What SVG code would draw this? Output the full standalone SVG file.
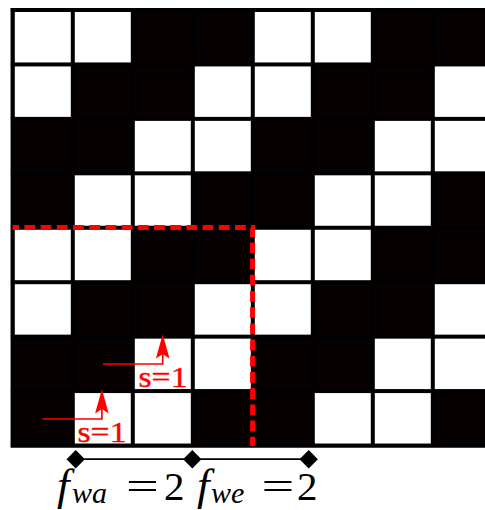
<svg xmlns="http://www.w3.org/2000/svg" width="485" height="510" viewBox="0 0 485 510">
  <style>
    .w { fill: #ffffff; }
    .gl { stroke: #000000; stroke-width: 4; fill: none; }
    .red { stroke: #ff0000; fill: none; }
    .rt { font-family: "Liberation Serif", "Times New Roman", serif; font-size: 30px; fill: #ff0000; stroke: #ff0000; stroke-width: 0.4; }
    .m { font-family: "Liberation Serif", "Times New Roman", serif; font-size: 41px; fill: #000000; }
    .mf { font-family: "Liberation Serif", "Times New Roman", serif; font-size: 45px; font-style: italic; fill: #000000; }
    .sub { font-family: "Liberation Serif", "Times New Roman", serif; font-size: 30px; font-style: italic; fill: #000000; }
  </style>
  <defs>
    <marker id="stealth" viewBox="-25 -7 26 14" markerWidth="26" markerHeight="14" refX="-19.7" refY="0" orient="auto" markerUnits="userSpaceOnUse">
      <path d="M0,0 L-24.2,-6.8 L-19.7,0 L-24.2,6.8 Z" fill="#ff0000"/>
    </marker>
    <marker id="diamond" viewBox="-10 -10 20 20" markerWidth="20" markerHeight="20" refX="0" refY="0" orient="auto" markerUnits="userSpaceOnUse">
      <path d="M0,-9.2 L9.2,0 L0,9.2 L-9.2,0 Z" fill="#000000"/>
    </marker>
  </defs>

  <g id="grid">
    <rect x="10.7" y="8" width="480" height="439.5" fill="#060000"/>
    <path class="gl" d="M12.8,8 V447.5 M72.8,8 V447.5 M132.8,8 V447.5 M192.8,8 V447.5 M252.8,8 V447.5 M312.8,8 V447.5 M372.8,8 V447.5 M432.8,8 V447.5
      M10.7,10 H485 M10.7,64.44 H485 M10.7,118.88 H485 M10.7,173.32 H485 M10.7,227.76 H485 M10.7,282.2 H485 M10.7,336.64 H485 M10.7,391.08 H485 M10.7,445.5 H485"/>
    <g id="cells">
      <rect class="w" x="14.8" y="12" width="56" height="50.44"/>
      <rect class="w" x="74.8" y="12" width="56" height="50.44"/>
      <rect class="w" x="254.8" y="12" width="56" height="50.44"/>
      <rect class="w" x="314.8" y="12" width="56" height="50.44"/>

      <rect class="w" x="14.8" y="66.44" width="56" height="50.44"/>
      <rect class="w" x="194.8" y="66.44" width="56" height="50.44"/>
      <rect class="w" x="254.8" y="66.44" width="56" height="50.44"/>
      <rect class="w" x="434.8" y="66.44" width="56" height="50.44"/>

      <rect class="w" x="134.8" y="120.88" width="56" height="50.44"/>
      <rect class="w" x="194.8" y="120.88" width="56" height="50.44"/>
      <rect class="w" x="374.8" y="120.88" width="56" height="50.44"/>
      <rect class="w" x="434.8" y="120.88" width="56" height="50.44"/>

      <rect class="w" x="74.8" y="175.32" width="56" height="50.44"/>
      <rect class="w" x="134.8" y="175.32" width="56" height="50.44"/>
      <rect class="w" x="314.8" y="175.32" width="56" height="50.44"/>
      <rect class="w" x="374.8" y="175.32" width="56" height="50.44"/>

      <rect class="w" x="14.8" y="229.76" width="56" height="50.44"/>
      <rect class="w" x="74.8" y="229.76" width="56" height="50.44"/>
      <rect class="w" x="254.8" y="229.76" width="56" height="50.44"/>
      <rect class="w" x="314.8" y="229.76" width="56" height="50.44"/>

      <rect class="w" x="14.8" y="284.2" width="56" height="50.44"/>
      <rect class="w" x="194.8" y="284.2" width="56" height="50.44"/>
      <rect class="w" x="254.8" y="284.2" width="56" height="50.44"/>
      <rect class="w" x="434.8" y="284.2" width="56" height="50.44"/>

      <rect class="w" x="134.8" y="338.64" width="56" height="50.44"/>
      <rect class="w" x="194.8" y="338.64" width="56" height="50.44"/>
      <rect class="w" x="374.8" y="338.64" width="56" height="50.44"/>
      <rect class="w" x="434.8" y="338.64" width="56" height="50.44"/>

      <rect class="w" x="74.8" y="393.08" width="56" height="50.44"/>
      <rect class="w" x="134.8" y="393.08" width="56" height="50.44"/>
      <rect class="w" x="314.8" y="393.08" width="56" height="50.44"/>
      <rect class="w" x="374.8" y="393.08" width="56" height="50.44"/>
    </g>
  </g>

  <g id="region">
    <path class="red" stroke-width="5" stroke-dasharray="10.8 5.4" stroke-dashoffset="4.5" d="M12.7,227.6 H252.6 V446"/>
  </g>

  <g id="connectors">
    <path id="arrow-s1-a" class="red" stroke-width="1.7" d="M103,364 H162.7 V354" marker-end="url(#stealth)"/>
    <path id="arrow-s1-b" class="red" stroke-width="1.7" d="M42.5,419 H101.9 V409" marker-end="url(#stealth)"/>
    <path id="dimension" stroke="#000000" stroke-width="1.7" fill="none" d="M75.7,459.2 H192.3 H308.7" marker-start="url(#diamond)" marker-mid="url(#diamond)" marker-end="url(#diamond)"/>
  </g>

  <g id="label-s1-a">
    <text class="rt" x="138.5" y="386.5" textLength="49" lengthAdjust="spacingAndGlyphs">s=1</text>
  </g>
  <g id="label-s1-b">
    <text class="rt" x="77.5" y="441.5" textLength="49" lengthAdjust="spacingAndGlyphs">s=1</text>
  </g>

  <g id="label-fwa">
    <text class="mf" x="57" y="500">f</text>
    <text class="sub" x="72" y="503">wa</text>
    <text class="m" transform="translate(126,500) scale(1.42,1)" x="0" y="0">=</text>
    <text class="m" x="164" y="500">2</text>
  </g>
  <g id="label-fwe">
    <text class="mf" x="197" y="500">f</text>
    <text class="sub" x="211" y="503">we</text>
    <text class="m" transform="translate(261.5,500) scale(1.42,1)" x="0" y="0">=</text>
    <text class="m" x="297" y="500">2</text>
  </g>
</svg>
